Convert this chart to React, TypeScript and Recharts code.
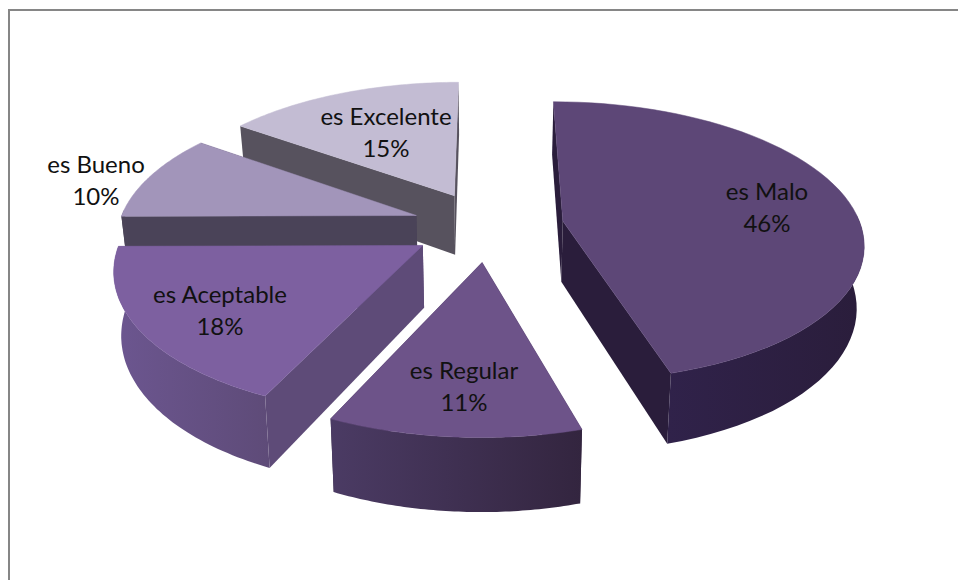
import { PieChart, Pie } from 'recharts'

// values in draw order: recharts walks counter-clockwise from 12 o'clock,
// so the far slices get painted first
const categories = ['es Excelente', 'es Bueno', 'es Aceptable', 'es Regular', 'es Malo']
const percents = [15.1, 10, 18, 11.4, 45.5]

const topColors = ['#c3bcd3', '#a295ba', '#7d60a0', '#6d5389', '#5d4777']
const wallColors = ['#57525e', '#4a4358', '#5e4b78', '#33253f', '#2a1d3b']
const wallLight = ['#5d5864', '#4c4559', '#6c5690', '#4b3b64', '#30224a']

const labelPos = [
  [386, 117],
  [96, 165],
  [220, 295],
  [464, 371],
  [767, 192],
]

const chartData = categories.map((name, i) => ({ name, value: percents[i] }))

const WIDTH = 958
const HEIGHT = 580
const CX = 488
const CY = 226
const RADIUS = 298
const TILT = 0.463 // y squash of the ground plane
const PERSPECTIVE = 0.145
const EXPLODE = 0.255
const DEPTH = 61
const RAD = Math.PI / 180

// ground coords (u right, v away, in radius units) -> screen
function project(u: number, v: number, bottom = false) {
  const s = 1 / (1 + PERSPECTIVE * v)
  const shrink = bottom ? 0.98 : 1
  return {
    x: CX + RADIUS * u * s * shrink,
    y: CY - RADIUS * TILT * v * s + (bottom ? DEPTH * s : 0),
  }
}

const pt = (p: { x: number; y: number }) => `${p.x.toFixed(1)} ${p.y.toFixed(1)}`

function Slice3D(props: any) {
  const { startAngle, endAngle, index } = props
  const mid = ((startAngle + endAngle) / 2) * RAD
  const ex = Math.cos(mid) * EXPLODE
  const ey = Math.sin(mid) * EXPLODE

  const arc: [number, number][] = []
  const front: [number, number][] = []
  const steps = 60
  for (let i = 0; i <= steps; i++) {
    const a = (startAngle + ((endAngle - startAngle) * i) / steps) * RAD
    const p: [number, number] = [ex + Math.cos(a), ey + Math.sin(a)]
    arc.push(p)
    // the back of the rim is hidden and would paint over the radial walls
    if (Math.sin(a) < 0.05) front.push(p)
  }
  const first = arc[0]
  const last = arc[arc.length - 1]

  const topPath =
    `M${pt(project(ex, ey))} ` + arc.map((p) => `L${pt(project(p[0], p[1]))}`).join(' ') + ' Z'

  const radialWall = (p: number[]) =>
    `M${pt(project(ex, ey))} L${pt(project(p[0], p[1]))} L${pt(project(p[0], p[1], true))} L${pt(project(ex, ey, true))} Z`

  const rimPath =
    front.map((p, i) => `${i ? 'L' : 'M'}${pt(project(p[0], p[1]))}`).join(' ') +
    ' ' +
    [...front].reverse().map((p) => `L${pt(project(p[0], p[1], true))}`).join(' ') +
    ' Z'

  // far wall first so the near one covers it
  const walls = [first, last].sort((a, b) => b[1] - a[1])

  return (
    <g>
      {walls.map((w, i) => (
        <path key={i} d={radialWall(w)} fill={wallColors[index]} />
      ))}
      {front.length > 1 && <path d={rimPath} fill={`url(#rim${index})`} />}
      <path d={topPath} fill={topColors[index]} stroke={topColors[index]} strokeWidth={0.5} />
    </g>
  )
}

function SliceLabel(props: any) {
  const { index, name, value } = props
  const [x, y] = labelPos[index]
  return (
    <text x={x} y={y} textAnchor="middle" fill="#111111" fontFamily="Lato, sans-serif" fontSize={24}>
      <tspan x={x} dy={8}>{name}</tspan>
      <tspan x={x} dy={32}>{Math.round(value)}%</tspan>
    </text>
  )
}

export default function App() {
  return (
    <div style={{ position: 'absolute', left: 0, top: 0, width: WIDTH, height: HEIGHT, background: '#fff' }}>
      <div style={{ position: 'absolute', left: 8, top: 9, right: 0, bottom: 0, borderLeft: '2px solid #868686', borderTop: '2px solid #868686' }} />
      <PieChart width={WIDTH} height={HEIGHT} margin={{ top: 0, right: 0, bottom: 0, left: 0 }}>
        <defs>
          {wallColors.map((c, i) => (
            <linearGradient key={i} id={`rim${i}`} x1="0" y1="0" x2="1" y2="0">
              <stop offset="0%" stopColor={wallLight[i]} />
              <stop offset="100%" stopColor={c} />
            </linearGradient>
          ))}
        </defs>
        <Pie
          data={chartData}
          dataKey="value"
          nameKey="name"
          cx={CX}
          cy={CY}
          innerRadius={0}
          outerRadius={RADIUS}
          startAngle={90}
          endAngle={450}
          paddingAngle={0}
          stroke="none"
          isAnimationActive={false}
          shape={Slice3D}
          label={SliceLabel}
          labelLine={false}
        />
      </PieChart>
    </div>
  )
}
